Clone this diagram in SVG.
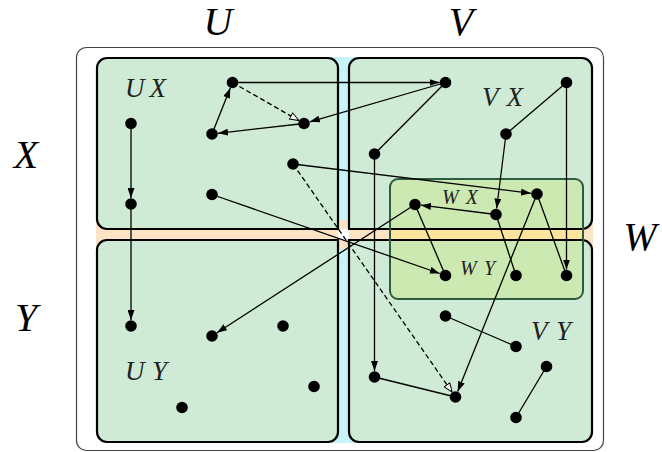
<svg xmlns="http://www.w3.org/2000/svg" width="662" height="452" viewBox="0 0 662 452">
<style>
.quad{fill:#d0ebd5;stroke:none}
.qline{fill:none;stroke:#000;stroke-width:2.2}
.edge{stroke:#000;stroke-width:1.3;fill:none}
.dash{stroke-dasharray:5,3}
.dot{fill:#000}
.big{font-family:"Liberation Serif","DejaVu Serif",serif;font-style:italic;font-size:40px;fill:#000}
.lbl{font-family:"Liberation Serif","DejaVu Serif",serif;font-style:italic;fill:#222}
</style>
<defs>
<marker id="arr" viewBox="0 0 10 7" refX="10" refY="3.5" markerWidth="10" markerHeight="7" markerUnits="userSpaceOnUse" orient="auto"><path d="M0,0 L10,3.5 L0,7 z" fill="#000"/></marker>
<marker id="open" viewBox="0 0 10 8" refX="9.5" refY="4" markerWidth="10" markerHeight="8" markerUnits="userSpaceOnUse" orient="auto"><path d="M0.5,0.5 L9.5,4 L0.5,7.5 z" fill="#fff" stroke="#000" stroke-width="1"/></marker>
<path id="qUX" d="M107,58 H328 A10,10 0 0 1 338,68 V229 H107 A10,10 0 0 1 97,219 V68 A10,10 0 0 1 107,58 Z"/>
<path id="qVX" d="M359,58 H582 A10,10 0 0 1 592,68 V219 A10,10 0 0 1 582,229 H349 V68 A10,10 0 0 1 359,58 Z"/>
<path id="qUY" d="M107,240 H338 V432 A10,10 0 0 1 328,442 H107 A10,10 0 0 1 97,432 V250 A10,10 0 0 1 107,240 Z"/>
<path id="qVY" d="M349,240 H582 A10,10 0 0 1 592,250 V432 A10,10 0 0 1 582,442 H359 A10,10 0 0 1 349,432 Z"/>
</defs>
<rect x="76.5" y="47.5" width="527" height="403" rx="10" fill="#fff" stroke="#444" stroke-width="1.2"/>
<g id="bands">
<rect x="330" y="57" width="27" height="386" fill="#c6f4f8"/>
<rect x="96" y="220" width="497" height="29" fill="#fde3c6"/>
<rect x="338" y="229" width="11" height="11" fill="#fff"/>
</g>
<g id="quadfills">
<use href="#qUX" class="quad"/>
<use href="#qVX" class="quad"/>
<use href="#qUY" class="quad"/>
<use href="#qVY" class="quad"/>
</g>
<g id="W">
<rect x="390" y="179" width="193" height="120" rx="8" fill="#cde9b2"/>
<rect x="391" y="229" width="191" height="11" fill="#fde49c"/>
</g>
<g id="quadlines">
<use href="#qUX" class="qline"/>
<use href="#qVX" class="qline"/>
<use href="#qUY" class="qline"/>
<use href="#qVY" class="qline"/>
</g>
<rect x="390" y="179" width="193" height="120" rx="8" fill="none" stroke="#2e5a3e" stroke-width="2"/>
<g id="connectors">
<line class="edge" x1="232.5" y1="82.5" x2="439.5" y2="82.5" marker-end="url(#arr)"/>
<line class="edge" x1="445.5" y1="82.5" x2="309.8" y2="121.8" marker-end="url(#arr)"/>
<line class="edge" x1="304" y1="123.5" x2="218" y2="133.3" marker-end="url(#arr)"/>
<line class="edge" x1="212" y1="134" x2="230.3" y2="88.1" marker-end="url(#arr)"/>
<line class="edge dash" x1="232.5" y1="82.5" x2="298.8" y2="120.5" marker-end="url(#open)"/>
<line class="edge" x1="131" y1="123.5" x2="131" y2="198" marker-end="url(#arr)"/>
<line class="edge" x1="131" y1="204" x2="131" y2="320" marker-end="url(#arr)"/>
<line class="edge" x1="212" y1="194.5" x2="439.8" y2="273.5" marker-end="url(#arr)"/>
<line class="edge" x1="293" y1="164" x2="531" y2="193.3" marker-end="url(#arr)"/>
<line class="edge dash" x1="293" y1="164" x2="452.1" y2="392.1" marker-end="url(#open)"/>
<line class="edge" x1="374.5" y1="154" x2="445.5" y2="82.5"/>
<line class="edge" x1="374.5" y1="154" x2="374.5" y2="371" marker-end="url(#arr)"/>
<line class="edge" x1="374.5" y1="377" x2="455.5" y2="397"/>
<line class="edge" x1="537" y1="194" x2="457.7" y2="391.4" marker-end="url(#arr)"/>
<line class="edge" x1="537" y1="194" x2="566.5" y2="275.5"/>
<line class="edge" x1="566.5" y1="82.5" x2="566.5" y2="269.5" marker-end="url(#arr)"/>
<line class="edge" x1="566.5" y1="82.5" x2="506" y2="134"/>
<line class="edge" x1="506" y1="134" x2="496.7" y2="208.5" marker-end="url(#arr)"/>
<line class="edge" x1="496" y1="214.5" x2="421" y2="205.2" marker-end="url(#arr)"/>
<line class="edge" x1="496" y1="214.5" x2="516" y2="275.5"/>
<line class="edge" x1="415" y1="204.5" x2="445.5" y2="275.5"/>
<line class="edge" x1="415" y1="204.5" x2="217" y2="332.7" marker-end="url(#arr)"/>
<line class="edge" x1="445.5" y1="316" x2="516" y2="346.5"/>
<line class="edge" x1="546.5" y1="366.5" x2="516" y2="417.5"/>
</g>
<g id="nodes">
<g id="n_a"><circle class="dot" cx="232.5" cy="82.5" r="5.8"/></g>
<g id="n_b"><circle class="dot" cx="304" cy="123.5" r="5.8"/></g>
<g id="n_c"><circle class="dot" cx="212" cy="134" r="5.8"/></g>
<g id="n_d"><circle class="dot" cx="131" cy="123.5" r="5.8"/></g>
<g id="n_e"><circle class="dot" cx="131" cy="204" r="5.8"/></g>
<g id="n_f"><circle class="dot" cx="293" cy="164" r="5.8"/></g>
<g id="n_g"><circle class="dot" cx="212" cy="194.5" r="5.8"/></g>
<g id="n_h"><circle class="dot" cx="445.5" cy="82.5" r="5.8"/></g>
<g id="n_i"><circle class="dot" cx="566.5" cy="82.5" r="5.8"/></g>
<g id="n_j"><circle class="dot" cx="374.5" cy="154" r="5.8"/></g>
<g id="n_k"><circle class="dot" cx="506" cy="134" r="5.8"/></g>
<g id="n_l"><circle class="dot" cx="537" cy="194" r="5.8"/></g>
<g id="n_m"><circle class="dot" cx="415" cy="204.5" r="5.8"/></g>
<g id="n_n"><circle class="dot" cx="496" cy="214.5" r="5.8"/></g>
<g id="n_o"><circle class="dot" cx="445.5" cy="275.5" r="5.8"/></g>
<g id="n_p"><circle class="dot" cx="516" cy="275.5" r="5.8"/></g>
<g id="n_q"><circle class="dot" cx="566.5" cy="275.5" r="5.8"/></g>
<g id="n_r"><circle class="dot" cx="445.5" cy="316" r="5.8"/></g>
<g id="n_s"><circle class="dot" cx="516" cy="346.5" r="5.8"/></g>
<g id="n_t"><circle class="dot" cx="546.5" cy="366.5" r="5.8"/></g>
<g id="n_u"><circle class="dot" cx="374.5" cy="377" r="5.8"/></g>
<g id="n_v"><circle class="dot" cx="455.5" cy="397" r="5.8"/></g>
<g id="n_w"><circle class="dot" cx="516" cy="417.5" r="5.8"/></g>
<g id="n_x"><circle class="dot" cx="131" cy="326" r="5.8"/></g>
<g id="n_y"><circle class="dot" cx="212" cy="336" r="5.8"/></g>
<g id="n_z"><circle class="dot" cx="283" cy="326" r="5.8"/></g>
<g id="n_aa"><circle class="dot" cx="314" cy="386.5" r="5.8"/></g>
<g id="n_bb"><circle class="dot" cx="182" cy="407.5" r="5.8"/></g>
</g>
<g id="labels">
<text class="big" x="218" y="35" text-anchor="middle">U</text>
<text class="big" x="461" y="35" text-anchor="middle">V</text>
<text class="big" x="26" y="168" text-anchor="middle">X</text>
<text class="big" x="26" y="331" text-anchor="middle">Y</text>
<text class="big" x="640" y="250" text-anchor="middle">W</text>
<text class="lbl" x="125" y="97" font-size="27" textLength="41" lengthAdjust="spacing">UX</text>
<text class="lbl" x="482" y="106" font-size="27" textLength="41" lengthAdjust="spacing">VX</text>
<text class="lbl" x="125" y="380" font-size="27" textLength="42" lengthAdjust="spacing">UY</text>
<text class="lbl" x="531" y="340" font-size="27" textLength="40" lengthAdjust="spacing">VY</text>
<text class="lbl" x="442" y="204" font-size="20" textLength="36" lengthAdjust="spacing">WX</text>
<text class="lbl" x="460" y="275" font-size="20" textLength="35" lengthAdjust="spacing">WY</text>
</g>
</svg>
